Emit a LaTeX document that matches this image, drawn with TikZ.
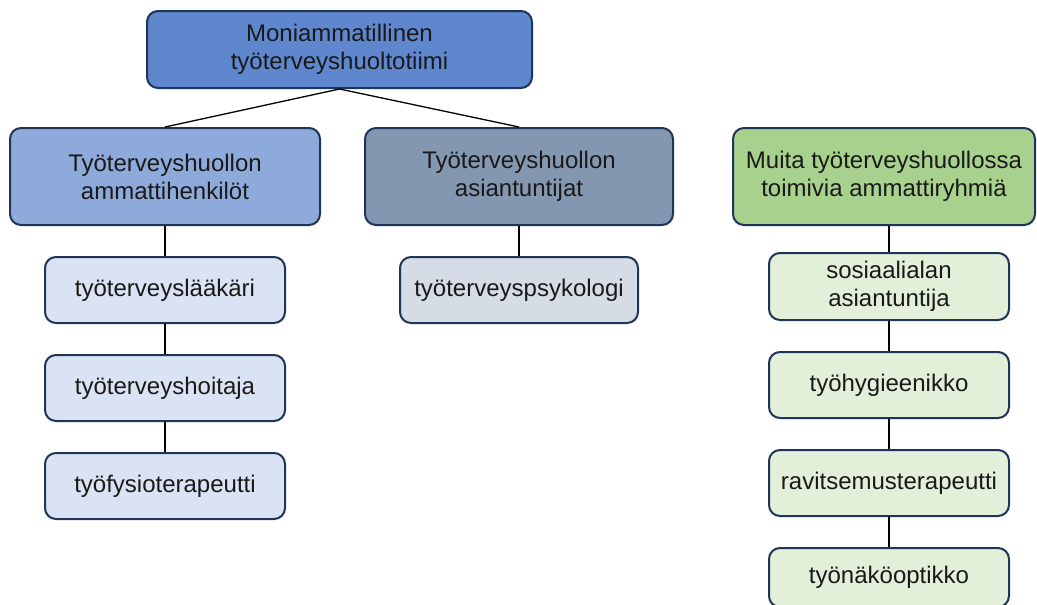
\documentclass[tikz,border=0pt]{standalone}
\usepackage{fontspec}
\setmainfont{Liberation Sans}
\usetikzlibrary{positioning}

\definecolor{lineblue}{HTML}{1F3456}
\definecolor{topblue}{HTML}{5F87CD}
\definecolor{profblue}{HTML}{8EAADB}
\definecolor{expslate}{HTML}{8497B0}
\definecolor{othergreen}{HTML}{A9D18E}
\definecolor{profpale}{HTML}{DAE3F3}
\definecolor{exppale}{HTML}{D6DCE5}
\definecolor{otherpale}{HTML}{E2F0D9}

\tikzset{
  box/.style={draw=lineblue, line width=2pt, rounded corners=11pt, align=center,
    font=\fontsize{24}{28}\selectfont, text=black!90, inner sep=3pt},
  headbox/.style={box, minimum height=97pt},
  itembox/.style={box, minimum width=240pt, minimum height=66pt},
  link/.style={line width=1.3pt}
}

\begin{document}
\begin{tikzpicture}[x=1pt, y=-1pt, node distance=30pt]
\useasboundingbox (0,0) rectangle (1037,605);

\node[box, fill=topblue, minimum width=385pt, minimum height=77pt] (team) at (339.5,49.5) {Moniammatillinen\\työterveyshuoltotiimi};

\node[headbox, fill=profblue, minimum width=310pt] (prof) at (165,176.5) {Työterveyshuollon\\ammattihenkilöt};
\node[headbox, fill=expslate, minimum width=308pt] (exp) at (519,176.5) {Työterveyshuollon\\asiantuntijat};
\node[headbox, fill=othergreen, minimum width=302pt] (other) at (884,176.5) {Muita työterveyshuollossa\\toimivia ammattiryhmiä};

% ammattihenkilöt
\node[itembox, fill=profpale, below=of prof] (doctor) {työterveyslääkäri};
\node[itembox, fill=profpale, below=of doctor] (nurse) {työterveyshoitaja};
\node[itembox, fill=profpale, below=of nurse] (physio) {työfysioterapeutti};

% asiantuntijat
\node[itembox, fill=exppale, minimum width=238pt, below=of exp] (psych) {työterveyspsykologi};

% muut
\node[itembox, fill=otherpale, minimum height=67pt] (social) at (889,286.5) {sosiaalialan\\asiantuntija};
\node[itembox, fill=otherpale, below=of social] (hyg) {työhygieenikko};
\node[itembox, fill=otherpale, below=of hyg] (diet) {ravitsemusterapeutti};
\node[itembox, fill=otherpale, minimum height=59pt, below=of diet] (optic) {työnäköoptikko};

\draw[link] (team.south) -- (prof.north);
\draw[link] (team.south) -- (exp.north);

\draw[link] (prof) -- (doctor);
\draw[link] (doctor) -- (nurse);
\draw[link] (nurse) -- (physio);
\draw[link] (exp) -- (psych);

\draw[link] (social.north) -- (social.north |- other.south);
\draw[link] (social) -- (hyg);
\draw[link] (hyg) -- (diet);
\draw[link] (diet) -- (optic);
\end{tikzpicture}
\end{document}
